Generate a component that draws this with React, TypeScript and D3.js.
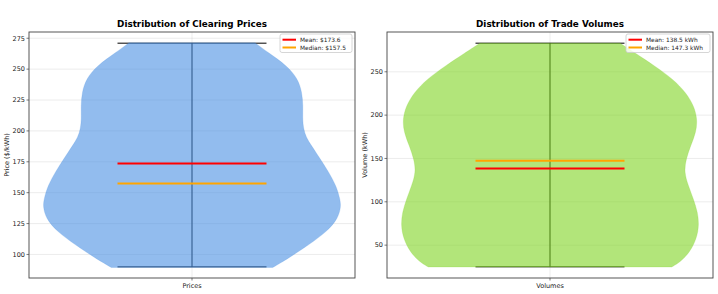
import React from "react";
import * as d3 from "d3";

// ---- Data ----
const priceStats = { min: 90, max: 271, mean: 173.6, median: 157.5 };
const volumeStats = { min: 25, max: 283, mean: 138.5, median: 147.3 };

// violin outline samples (value, relative half-width)
const priceProfileValues = [89.5, 97, 107.8, 118.5, 129.2, 138.6, 145.3, 156.1, 166.8, 177.6, 188.4, 195, 202, 209.8, 220.6, 231.3, 242, 252.8, 263.5, 271.3];
const priceProfileWidths = [0.542, 0.649, 0.783, 0.906, 0.98, 1.0, 0.993, 0.966, 0.917, 0.859, 0.8, 0.765, 0.748, 0.742, 0.745, 0.738, 0.711, 0.638, 0.51, 0.423];

const volumeProfileValues = [24.8, 30.8, 42.3, 57.6, 72.9, 88.2, 103.5, 118.8, 134.1, 149.4, 164.7, 180, 195.3, 210.6, 225.9, 241.2, 256.5, 271.8, 283];
const volumeProfileWidths = [0.816, 0.877, 0.94, 0.984, 1.0, 0.991, 0.962, 0.928, 0.9, 0.913, 0.944, 0.98, 0.989, 0.966, 0.913, 0.828, 0.705, 0.57, 0.47];

const priceTicks = [100, 125, 150, 175, 200, 225, 250, 275];
const volumeTicks = [50, 100, 150, 200, 250];

const panels = [
  {
    title: "Distribution of Clearing Prices",
    ylabel: "Price ($/kWh)",
    xlabel: "Prices",
    stats: priceStats,
    values: priceProfileValues,
    widths: priceProfileWidths,
    ticks: priceTicks,
    color: "#4a90e2",
    meanLabel: "Mean: $173.6",
    medianLabel: "Median: $157.5",
    left: 29,
    right: 355,
    legendW: 72,
  },
  {
    title: "Distribution of Trade Volumes",
    ylabel: "Volume (kWh)",
    xlabel: "Volumes",
    stats: volumeStats,
    values: volumeProfileValues,
    widths: volumeProfileWidths,
    ticks: volumeTicks,
    color: "#7ed321",
    meanLabel: "Mean: 138.5 kWh",
    medianLabel: "Median: 147.3 kWh",
    left: 387,
    right: 713,
    legendW: 84,
  },
];

const TOP = 32;
const BOTTOM = 278;
const FONT = "DejaVu Sans, sans-serif";

function Panel({ p }: { p: (typeof panels)[number] }) {
  const span = p.stats.max - p.stats.min;
  const y = d3
    .scaleLinear()
    .domain([p.stats.min - span * 0.05, p.stats.max + span * 0.05])
    .range([BOTTOM, TOP]);
  const x = d3.scaleLinear().domain([1 - 0.2735, 1 + 0.2735]).range([p.left, p.right]);
  const pts = p.values.map((v, i) => ({ v, w: p.widths[i] }));
  const area = d3
    .area<{ v: number; w: number }>()
    .y((d) => y(d.v))
    .x0((d) => x(1 - 0.25 * d.w))
    .x1((d) => x(1 + 0.25 * d.w))
    .curve(d3.curveBasis);
  const cx = x(1);
  const wl = x(1 - 0.125);
  const wr = x(1 + 0.125);
  const lx = p.right - 3 - p.legendW;
  return (
    <g>
      {/* grid */}
      {p.ticks.map((t) => (
        <line key={t} x1={p.left} x2={p.right} y1={y(t)} y2={y(t)} stroke="#b0b0b0" strokeOpacity={0.3} strokeWidth={0.8} />
      ))}
      <line x1={cx} x2={cx} y1={TOP} y2={BOTTOM} stroke="#b0b0b0" strokeOpacity={0.3} strokeWidth={0.8} />
      {/* extrema & center bar (drawn beneath body) */}
      <g stroke="#000" strokeWidth={1}>
        <line x1={wl} x2={wr} y1={y(p.stats.max)} y2={y(p.stats.max)} />
        <line x1={wl} x2={wr} y1={y(p.stats.min)} y2={y(p.stats.min)} />
        <line x1={cx} x2={cx} y1={y(p.stats.max)} y2={y(p.stats.min)} />
      </g>
      <path d={area(pts) ?? ""} fill={p.color} fillOpacity={0.6} stroke={p.color} strokeOpacity={0.2} strokeWidth={1} />
      <line x1={wl} x2={wr} y1={y(p.stats.mean)} y2={y(p.stats.mean)} stroke="red" strokeWidth={2} />
      <line x1={wl} x2={wr} y1={y(p.stats.median)} y2={y(p.stats.median)} stroke="orange" strokeWidth={2} />
      {/* spines */}
      <rect x={p.left} y={TOP} width={p.right - p.left} height={BOTTOM - TOP} fill="none" stroke="#444" strokeWidth={0.9} />
      {/* y ticks */}
      {p.ticks.map((t) => (
        <g key={t}>
          <line x1={p.left - 2.5} x2={p.left} y1={y(t)} y2={y(t)} stroke="#444" strokeWidth={0.7} />
          <text x={p.left - 4} y={y(t)} dy="0.35em" textAnchor="end" fontSize={6.5} fill="#222" fontFamily={FONT}>
            {t}
          </text>
        </g>
      ))}
      {/* x tick */}
      <line x1={cx} x2={cx} y1={BOTTOM} y2={BOTTOM + 2.5} stroke="#444" strokeWidth={0.7} />
      <text x={cx} y={288} textAnchor="middle" fontSize={6.5} fill="#222" fontFamily={FONT}>
        {p.xlabel}
      </text>
      {/* y label */}
      <text
        transform={`translate(${p.left - 20},${(TOP + BOTTOM) / 2}) rotate(-90)`}
        textAnchor="middle"
        fontSize={6.5}
        fill="#222"
        fontFamily={FONT}
      >
        {p.ylabel}
      </text>
      {/* title */}
      <text x={(p.left + p.right) / 2} y={27.3} textAnchor="middle" fontSize={8.8} fontWeight="bold" fill="#000" fontFamily={FONT}>
        {p.title}
      </text>
      {/* legend */}
      <rect x={lx} y={34} width={p.legendW} height={18.5} rx={2} fill="#fff" fillOpacity={0.8} stroke="#ccc" strokeWidth={0.8} />
      <line x1={lx + 2.5} x2={lx + 16} y1={39.7} y2={39.7} stroke="red" strokeWidth={2} />
      <line x1={lx + 2.5} x2={lx + 16} y1={47.5} y2={47.5} stroke="orange" strokeWidth={2} />
      <text x={lx + 20} y={39.7} dy="0.35em" fontSize={5.9} fill="#222" fontFamily={FONT}>
        {p.meanLabel}
      </text>
      <text x={lx + 20} y={47.5} dy="0.35em" fontSize={5.9} fill="#222" fontFamily={FONT}>
        {p.medianLabel}
      </text>
    </g>
  );
}

export default function App() {
  return (
    <svg width={718} height={294} style={{ position: "absolute", left: 0, top: 0, background: "#fff" }}>
      <rect width={718} height={294} fill="#fff" />
      {panels.map((p) => (
        <Panel key={p.title} p={p} />
      ))}
    </svg>
  );
}
